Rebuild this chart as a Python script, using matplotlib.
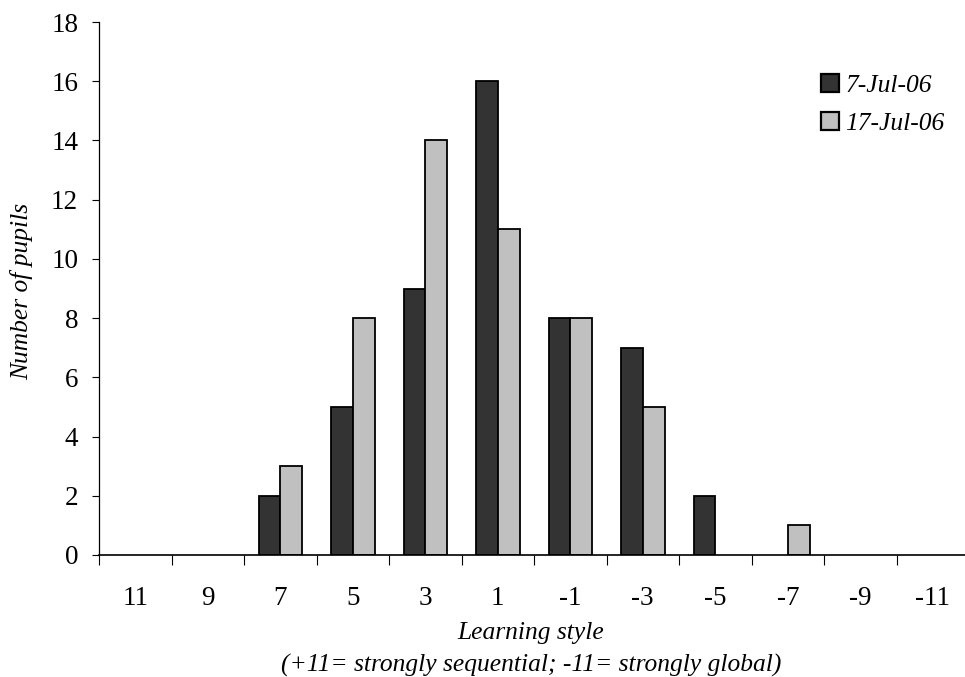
import matplotlib.pyplot as plt
import numpy as np

plt.rcParams['font.family'] = ['Liberation Serif', 'DejaVu Serif']

categories = ["11", "9", "7", "5", "3", "1", "-1", "-3", "-5", "-7", "-9", "-11"]
jul7 = [0, 0, 2, 5, 9, 16, 8, 7, 2, 0, 0, 0]
jul17 = [0, 0, 3, 8, 14, 11, 8, 5, 0, 1, 0, 0]

fs = 18.4
tfs = 19.5

fig = plt.figure(figsize=(9.65, 6.77), dpi=100)
ax = fig.add_axes([99/965, 1 - 555/677, 870/965, 533/677])

x = np.arange(len(categories))
w = 0.3
# no outline on empty bars so the axis line stays thin
lw7 = [1.3 if v > 0 else 0 for v in jul7]
lw17 = [1.3 if v > 0 else 0 for v in jul17]
ax.bar(x - w/2, jul7, w, color="#333333", edgecolor="black", linewidth=lw7, label="7-Jul-06")
ax.bar(x + w/2, jul17, w, color="#c0c0c0", edgecolor="black", linewidth=lw17, label="17-Jul-06")

ax.set_xlim(-0.5, len(categories) - 0.5)
ax.set_ylim(0, 18)
ax.set_yticks(range(0, 19, 2))
ax.tick_params(axis="y", labelsize=tfs, length=5, pad=10, width=0.8)

ax.set_xticks(np.arange(-0.5, len(categories), 1))
ax.set_xticklabels([])
ax.tick_params(axis="x", which="major", length=7, width=0.8, direction="out")
ax.set_xticks(x, minor=True)
ax.set_xticklabels(categories, minor=True)
ax.tick_params(axis="x", which="minor", length=0, labelsize=tfs, pad=22)

ax.spines["top"].set_visible(False)
ax.spines["right"].set_visible(False)
ax.spines["left"].set_linewidth(0.9)
ax.spines["bottom"].set_linewidth(1.2)

fig.text(22/965, 1 - 291/677, "Number of pupils", rotation=90, ha="center", va="center",
         fontsize=fs, style="italic")
fig.text(531/965, 1 - 633/677, "Learning style", ha="center", va="center", fontsize=fs, style="italic")
fig.text(531/965, 1 - 665/677, "(+11= strongly sequential; -11= strongly global)",
         ha="center", va="center", fontsize=fs, style="italic")

leg = ax.legend(loc="upper left", bbox_to_anchor=(821/965, 1 - 74/677), bbox_transform=fig.transFigure,
                frameon=False, prop={"style": "italic", "size": fs}, handlelength=0.7, handleheight=0.7,
                handletextpad=0.25, labelspacing=0.6, borderpad=0, borderaxespad=0)
for h in leg.legend_handles:
    h.set_edgecolor("black")
    h.set_linewidth(1.6)

fig.savefig("out.png", dpi=100)
